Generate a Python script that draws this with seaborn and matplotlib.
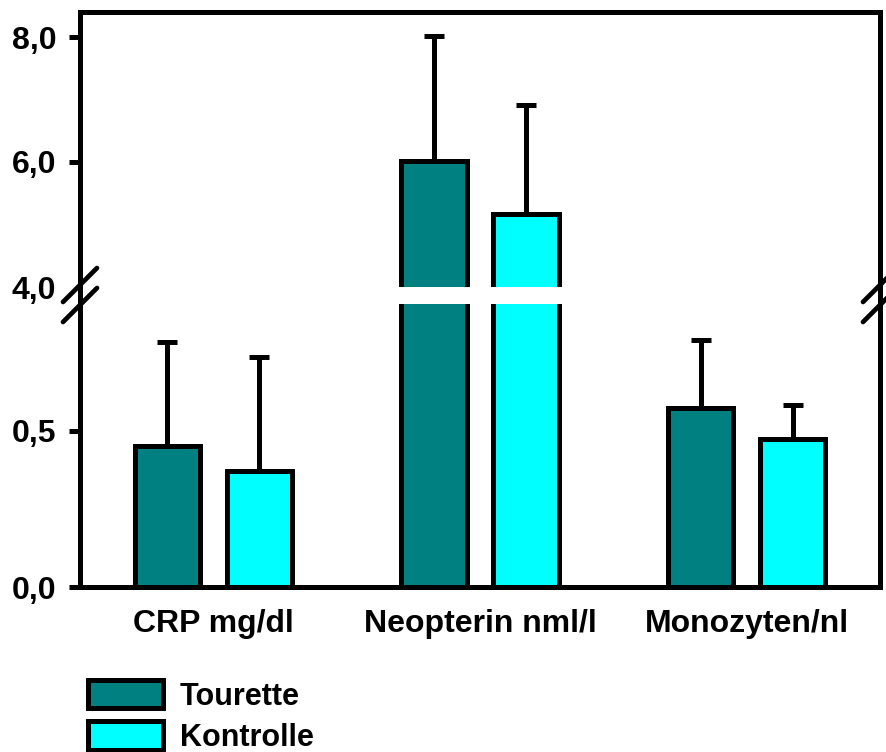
import matplotlib
matplotlib.use("Agg")
import matplotlib.pyplot as plt
import seaborn as sns
import pandas as pd
import numpy as np
from matplotlib.lines import Line2D
from matplotlib.patches import Patch

sns.set_style("white")
plt.rcParams['font.family'] = ['Liberation Sans', 'DejaVu Sans']
plt.rcParams['font.weight'] = 'bold'
plt.rcParams['text.color'] = 'black'
plt.rcParams['xtick.color'] = 'black'
plt.rcParams['ytick.color'] = 'black'
plt.rcParams['xtick.labelcolor'] = 'black'
plt.rcParams['ytick.labelcolor'] = 'black'

categories = ["CRP mg/dl", "Neopterin nml/l", "Monozyten/nl"]
groups = ["Tourette", "Kontrolle"]
tourette_mean = [0.452, 6.02, 0.574]
tourette_err = [0.333, 2.0, 0.218]
kontrolle_mean = [0.372, 5.17, 0.474]
kontrolle_err = [0.365, 1.74, 0.109]
colors = ["#008080", "#00FFFF"]
upper_ticks = [4.0, 6.0, 8.0]
upper_ticklabels = ["4,0", "6,0", "8,0"]
lower_ticks = [0.0, 0.5]
lower_ticklabels = ["0,0", "0,5"]

df = pd.DataFrame({
    "cat": categories * 2,
    "group": [groups[0]] * 3 + [groups[1]] * 3,
    "mean": tourette_mean + kontrolle_mean,
    "err": tourette_err + kontrolle_err,
})

W, H = 886, 752
fig = plt.figure(figsize=(W / 100, H / 100), dpi=100)
L, R = 80, 880
ax_up = fig.add_axes([L / W, (H - 287) / H, (R - L) / W, 275 / H])
ax_lo = fig.add_axes([L / W, (H - 587) / H, (R - L) / W, 283 / H])

LW = 3.6
BLW = 3.6
for ax in (ax_up, ax_lo):
    sns.barplot(data=df, x="cat", y="mean", hue="group", palette=colors,
                order=categories, hue_order=groups, width=0.69, gap=0.29,
                saturation=1, edgecolor="black", linewidth=BLW,
                errorbar=None, ax=ax, legend=False, zorder=3)
    # error bars, upward only
    for gi, g in enumerate(groups):
        sub = df[df.group == g].set_index("cat").loc[categories]
        bars = ax.patches[gi * 3:(gi + 1) * 3]
        xs = [b.get_x() + b.get_width() / 2 for b in bars]
        ax.errorbar(xs, sub["mean"].values,
                    yerr=[np.zeros(3), sub["err"].values],
                    fmt="none", ecolor="black", elinewidth=BLW,
                    capsize=7, capthick=BLW, zorder=2)
    ax.set_xlim(-0.5, 2.5)
    ax.set_xlabel("")
    ax.set_ylabel("")
    for s in ax.spines.values():
        s.set_linewidth(LW)
        s.set_color("black")
        s.set_capstyle("projecting")

ax_up.set_ylim(4.0, 8.4)
ax_lo.set_ylim(0.0, 0.907)
ax_up.spines["bottom"].set_visible(False)
ax_lo.spines["top"].set_visible(False)
ax_up.set_xticks([])

ax_up.set_yticks(upper_ticks)
ax_up.set_yticklabels(upper_ticklabels)
ax_lo.set_yticks(lower_ticks)
ax_lo.set_yticklabels(lower_ticklabels)
for ax in (ax_up, ax_lo):
    ax.tick_params(axis="y", left=True, length=8, width=LW, pad=9,
                   labelsize=23, color="black", labelcolor="black")
    for t in ax.get_yticklabels():
        t.set_fontweight("bold")
ax_up.yaxis.get_major_ticks()[0].tick1line.set_visible(False)

ax_lo.tick_params(axis="x", bottom=False, length=0, pad=16, labelsize=23,
                  labelcolor="black")
for t in ax_lo.get_xticklabels():
    t.set_fontweight("bold")

# connect spines across the break and draw break marks (figure pixels)
def fx(x):
    return x / W

def fy(y):
    return (H - y) / H

for x in (L, R):
    fig.add_artist(Line2D([fx(x), fx(x)], [fy(285), fy(306)], color="black",
                          lw=LW, transform=fig.transFigure))
    for y0 in (302, 322):
        fig.add_artist(Line2D([fx(x - 17), fx(x + 17)], [fy(y0), fy(y0 - 34)],
                              color="black", lw=3.4, solid_capstyle="round",
                              transform=fig.transFigure))

handles = [Patch(facecolor=c, edgecolor="black", linewidth=BLW) for c in colors]
leg = fig.legend(handles, groups, loc="lower left",
                 bbox_to_anchor=(fx(82), fy(759)), frameon=False,
                 prop={"size": 22, "weight": "bold"},
                 handlelength=2.45, handleheight=1.05, labelspacing=0.32,
                 handletextpad=0.55, borderaxespad=0, borderpad=0.2)
for t in leg.get_texts():
    t.set_color("black")

fig.savefig("out.png", dpi=100)
